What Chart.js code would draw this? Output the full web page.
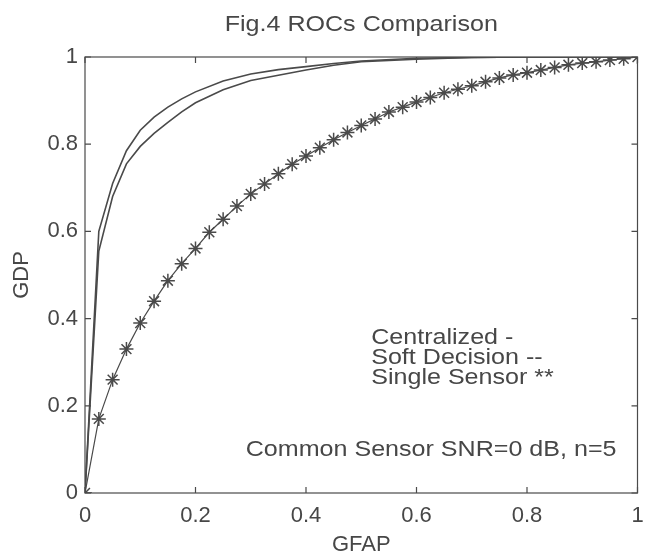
<!DOCTYPE html>
<html>
<head>
<meta charset="utf-8">
<script src="https://cdn.jsdelivr.net/npm/chart.js@4/dist/chart.umd.min.js"></script>
<style>
  html, body { margin: 0; padding: 0; background: #ffffff; }
  #wrap { width: 646px; height: 556px; }
</style>
</head>
<body>
<div id="wrap"><canvas id="c" width="646" height="556"></canvas></div>
<script>
// ---- data ----
const chartTitle = "Fig.4 ROCs Comparison";
const xAxisTitle = "GFAP";
const yAxisTitle = "GDP";
const xTickValues = [0, 0.2, 0.4, 0.6, 0.8, 1];
const yTickValues = [0, 0.2, 0.4, 0.6, 0.8, 1];

const curveFap = [0, 0.025, 0.05, 0.075, 0.1, 0.125, 0.15, 0.175, 0.2, 0.25, 0.3, 0.35, 0.4, 0.45, 0.5, 0.6, 0.7, 0.8, 0.9, 1];
const centralized = [0, 0.60, 0.71, 0.785, 0.832, 0.862, 0.885, 0.904, 0.920, 0.945, 0.961, 0.971, 0.978, 0.985, 0.991, 0.997, 0.999, 1, 1, 1];
const softDecision = [0, 0.555, 0.680, 0.755, 0.795, 0.825, 0.850, 0.874, 0.895, 0.925, 0.946, 0.958, 0.970, 0.981, 0.989, 0.995, 0.999, 1, 1, 1];

const singleFap = [0, 0.025, 0.05, 0.075, 0.1, 0.125, 0.15, 0.175, 0.2, 0.225, 0.25, 0.275, 0.3, 0.325, 0.35, 0.375, 0.4, 0.425, 0.45, 0.475, 0.5, 0.525, 0.55, 0.575, 0.6, 0.625, 0.65, 0.675, 0.7, 0.725, 0.75, 0.775, 0.8, 0.825, 0.85, 0.875, 0.9, 0.925, 0.95, 0.975, 1];
const singleSensor = [0, 0.17, 0.26, 0.33, 0.39, 0.44, 0.487, 0.526, 0.561, 0.598, 0.628, 0.658, 0.686, 0.709, 0.732, 0.754, 0.773, 0.792, 0.81, 0.827, 0.843, 0.858, 0.874, 0.885, 0.897, 0.907, 0.918, 0.926, 0.934, 0.943, 0.952, 0.959, 0.964, 0.97, 0.976, 0.982, 0.986, 0.989, 0.993, 0.996, 1.0];

const seriesNames = ["Centralized", "Soft Decision", "Single Sensor"];
const annotationLines = ["Centralized -", "Soft Decision --", "Single Sensor **"];
const noteText = "Common Sensor SNR=0 dB, n=5";

// ---- styling ----
const INK = "#4a4a4a";
const TEXT = "#474747";
const FONT = "'Liberation Sans', Arial, sans-serif";
const TEXT_STRETCH = 1.14;

function toPoints(xs, ys) { return xs.map((x, i) => ({ x: x, y: ys[i] })); }

function stretchedText(ctx, text, x, y, align) {
  ctx.save();
  ctx.translate(x, y);
  ctx.scale(TEXT_STRETCH, 1);
  ctx.textAlign = align;
  ctx.fillText(text, 0, 0);
  ctx.restore();
}

const boxPlugin = {
  id: "matlabBox",
  afterDatasetsDraw(chart) {
    const { ctx, chartArea: a, scales } = chart;
    ctx.save();
    ctx.strokeStyle = INK;
    ctx.lineWidth = 1.2;
    ctx.strokeRect(a.left, a.top, a.right - a.left, a.bottom - a.top);
    const tl = 6;
    ctx.beginPath();
    xTickValues.forEach(v => {
      const px = scales.x.getPixelForValue(v);
      ctx.moveTo(px, a.bottom); ctx.lineTo(px, a.bottom - tl);
      ctx.moveTo(px, a.top); ctx.lineTo(px, a.top + tl);
    });
    yTickValues.forEach(v => {
      const py = scales.y.getPixelForValue(v);
      ctx.moveTo(a.left, py); ctx.lineTo(a.left + tl, py);
      ctx.moveTo(a.right, py); ctx.lineTo(a.right - tl, py);
    });
    ctx.stroke();

    ctx.fillStyle = TEXT;
    ctx.font = "22px " + FONT;
    ctx.textBaseline = "middle";

    // title, centred over the axes
    stretchedText(ctx, chartTitle, (a.left + a.right) / 2, 25, "center");

    // in-plot annotation text
    const lx = scales.x.getPixelForValue(0.518);
    const lys = [0.356, 0.31, 0.265];
    annotationLines.forEach((t, i) => {
      stretchedText(ctx, t, lx, scales.y.getPixelForValue(lys[i]), "left");
    });
    stretchedText(ctx, noteText, scales.x.getPixelForValue(0.962), scales.y.getPixelForValue(0.098), "right");
    ctx.restore();
  }
};

new Chart(document.getElementById("c"), {
  type: "scatter",
  data: {
    datasets: [
      {
        label: seriesNames[0],
        data: toPoints(curveFap, centralized),
        showLine: true,
        borderColor: INK,
        borderWidth: 1.6,
        pointRadius: 0,
        tension: 0
      },
      {
        label: seriesNames[1],
        data: toPoints(curveFap, softDecision),
        showLine: true,
        borderColor: INK,
        borderWidth: 1.6,
        pointRadius: 0,
        tension: 0
      },
      {
        label: seriesNames[2],
        data: toPoints(singleFap, singleSensor),
        showLine: true,
        borderColor: INK,
        borderWidth: 1.2,
        pointStyle: "star",
        pointRadius: 7,
        pointBorderWidth: 1.5,
        pointBorderColor: INK,
        pointBackgroundColor: INK,
        tension: 0
      }
    ]
  },
  options: {
    responsive: false,
    animation: false,
    devicePixelRatio: 1,
    layout: { padding: { left: 0, right: 6, top: 57, bottom: 0 } },
    plugins: {
      legend: { display: false },
      tooltip: { enabled: false },
      title: { display: false }
    },
    scales: {
      x: {
        type: "linear",
        min: 0, max: 1,
        afterBuildTicks: (s) => { s.ticks = xTickValues.map(v => ({ value: v })); },
        afterFit: (s) => { s.height = 63; s.paddingLeft = 0; s.paddingRight = 0; },
        grid: { display: false, drawTicks: false },
        border: { display: false },
        ticks: {
          color: TEXT,
          font: { family: FONT, size: 22 },
          padding: 10,
          maxRotation: 0,
          callback: (v) => String(v)
        },
        title: {
          display: true,
          text: xAxisTitle,
          color: TEXT,
          font: { family: FONT, size: 22, lineHeight: 1.0 },
          padding: { top: 0, bottom: 0 }
        }
      },
      y: {
        type: "linear",
        min: 0, max: 1,
        afterBuildTicks: (s) => { s.ticks = yTickValues.map(v => ({ value: v })); },
        afterFit: (s) => { s.width = 85; s.paddingTop = 0; s.paddingBottom = 0; },
        grid: { display: false, drawTicks: false },
        border: { display: false },
        ticks: {
          color: TEXT,
          font: { family: FONT, size: 22 },
          padding: 7,
          callback: (v) => String(v)
        },
        title: {
          display: true,
          text: yAxisTitle,
          color: TEXT,
          font: { family: FONT, size: 22 },
          padding: { top: 9, bottom: 0 }
        }
      }
    }
  },
  plugins: [boxPlugin]
});
</script>
</body>
</html>
